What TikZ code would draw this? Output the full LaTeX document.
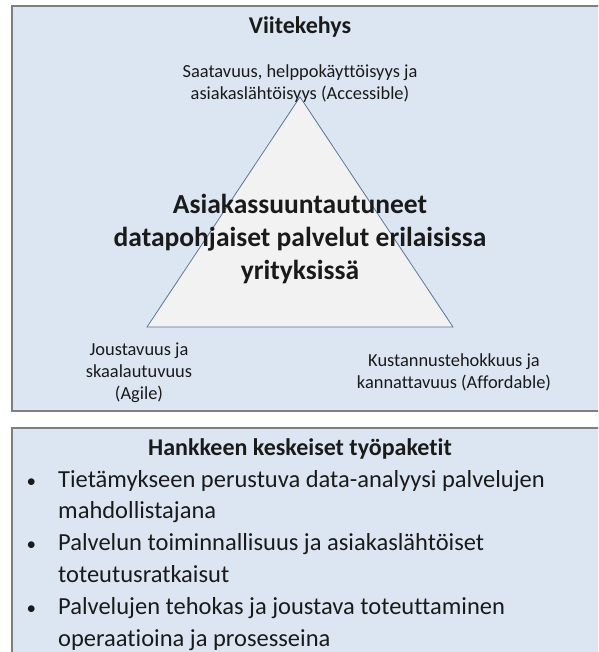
\documentclass[tikz,border=0pt]{standalone}
\usepackage{fontspec}
\setmainfont[Ligatures={NoCommon,NoContextual,NoRequired}]{Carlito}
\definecolor{boxfill}{HTML}{DCE6F2}
\definecolor{boxline}{HTML}{7F7F7F}
\definecolor{trifill}{HTML}{F2F2F2}
\definecolor{triline}{HTML}{5A7694}
\definecolor{ink}{HTML}{1A1A1A}
\newcommand{\itembul}{\llap{{\fontsize{19}{19}\selectfont •}\hspace{22pt}}}
\tikzset{
  panel/.style={fill=boxfill, draw=boxline, line width=1.8pt},
  lbl/.style={inner sep=0pt, text=ink, align=center, font=\fontsize{18.4}{22}\selectfont},
  ttl/.style={inner sep=0pt, text=ink, font=\bfseries\fontsize{24}{28}\selectfont},
  big/.style={inner sep=0pt, text=ink, align=center, font=\bfseries\fontsize{27.5}{33}\selectfont},
  item/.style={inner sep=0pt, text=ink, align=left, anchor=base west, font=\fontsize{24.5}{31.8}\selectfont},
}
\begin{document}
\begin{tikzpicture}[x=1pt,y=-1pt]
\useasboundingbox (0,0) rectangle (598,652);
\clip (0,0) rectangle (598,652);
\fill[white] (0,0) rectangle (598,652);
% panels
\draw[panel] (12,6) rectangle (620,411);
\draw[panel] (12,428) rectangle (620,680);
% triangle
\coordinate (apex) at (300,97);
\coordinate (bl) at (147,327);
\coordinate (br) at (453,327);
\draw[fill=trifill, draw=triline, line width=0.8pt] (apex) -- (bl) -- (br) -- cycle;
% texts
\node[ttl] (t1) at (300,27) {Viitekehys};
\node[lbl] (acc) at (300,84) {Saatavuus, helppokäyttöisyys ja\\asiakaslähtöisyys (Accessible)};
\node[big] (core) at (300,239) {Asiakassuuntautuneet\\datapohjaiset palvelut erilaisissa\\yrityksissä};
\node[lbl] (agile) at (139,373) {Joustavuus ja\\skaalautuvuus\\(Agile)};
\node[lbl] (aff) at (454,372) {Kustannustehokkuus ja\\kannattavuus (Affordable)};
\node[ttl] (t2) at (300,449) {Hankkeen keskeiset työpaketit};
\node[item] (i1) at (58,518.8) {\itembul Tietämykseen perustuva data-analyysi palvelujen\\mahdollistajana};
\node[item] (i2) at (58,582.4) {\itembul Palvelun toiminnallisuus ja asiakaslähtöiset\\toteutusratkaisut};
\node[item] (i3) at (58,646) {\itembul Palvelujen tehokas ja joustava toteuttaminen\\operaatioina ja prosesseina};
\end{tikzpicture}
\end{document}
